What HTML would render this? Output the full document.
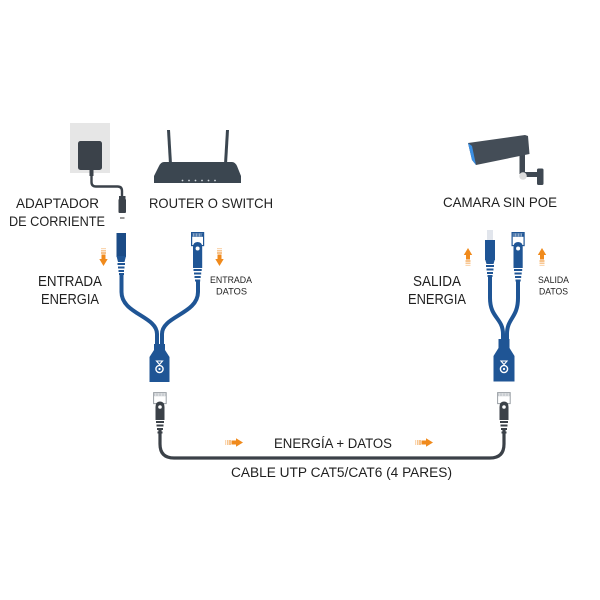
<!DOCTYPE html>
<html><head><meta charset="utf-8"><style>
html,body{margin:0;padding:0;background:#fff;}
svg{display:block;}
text{font-family:"Liberation Sans",sans-serif;fill:#1f1f1f;}
</style></head><body>
<svg width="600" height="600" viewBox="0 0 600 600" xmlns="http://www.w3.org/2000/svg">
<defs>
  <g id="arrowDown">
    <rect x="-2.5" y="0" width="5" height="1.2" fill="#f08a1c" opacity="0.35"/>
    <rect x="-2.5" y="2.2" width="5" height="1.2" fill="#f08a1c" opacity="0.6"/>
    <rect x="-2.5" y="4.4" width="5" height="1.2" fill="#f08a1c" opacity="0.85"/>
    <rect x="-2" y="6.5" width="4" height="5" fill="#f08a1c"/>
    <polygon points="-4.2,11 4.2,11 0,18" fill="#f08a1c"/>
  </g>
  <g id="arrowRight">
    <rect x="0" y="-2.5" width="1.2" height="5" fill="#f08a1c" opacity="0.35"/>
    <rect x="2.2" y="-2.5" width="1.2" height="5" fill="#f08a1c" opacity="0.6"/>
    <rect x="4.4" y="-2.5" width="1.2" height="5" fill="#f08a1c" opacity="0.85"/>
    <rect x="6.5" y="-2" width="5" height="4" fill="#f08a1c"/>
    <polygon points="11,-4.2 11,4.2 18,0" fill="#f08a1c"/>
  </g>
  <g id="rj45blue">
    <rect x="0.6" y="0.6" width="12" height="13" fill="#fff" stroke="#1f5595" stroke-width="1.2"/>
    <rect x="1.2" y="1.2" width="10.8" height="3.6" fill="#1f5595"/>
    <g stroke="#fff" stroke-width="0.5">
      <line x1="2.5" y1="1.5" x2="2.5" y2="4.5"/><line x1="4" y1="1.5" x2="4" y2="4.5"/>
      <line x1="5.5" y1="1.5" x2="5.5" y2="4.5"/><line x1="7" y1="1.5" x2="7" y2="4.5"/>
      <line x1="8.5" y1="1.5" x2="8.5" y2="4.5"/><line x1="10" y1="1.5" x2="10" y2="4.5"/>
    </g>
    <path d="M2,36 L2,15 Q2,10 6.6,10 Q11.2,10 11.2,15 L11.2,36 Z" fill="#1f5595"/>
    <circle cx="6.6" cy="16.5" r="2" fill="#fff"/>
    <rect x="2.5" y="37" width="8.2" height="2" fill="#1f5595"/>
    <rect x="3" y="40.5" width="7.2" height="2" fill="#1f5595"/>
    <rect x="3.5" y="44" width="6.2" height="2" fill="#1f5595"/>
    <rect x="4" y="47.5" width="5.2" height="2" fill="#1f5595"/>
  </g>
  <g id="rj45gray">
    <rect x="0.6" y="0.6" width="12.6" height="11" fill="#fff" stroke="#9aa0a6" stroke-width="1"/>
    <rect x="1.2" y="1.2" width="11.4" height="3" fill="#b9bec3"/>
    <g stroke="#fff" stroke-width="0.5">
      <line x1="2.5" y1="1.3" x2="2.5" y2="4"/><line x1="4" y1="1.3" x2="4" y2="4"/>
      <line x1="5.5" y1="1.3" x2="5.5" y2="4"/><line x1="7" y1="1.3" x2="7" y2="4"/>
      <line x1="8.5" y1="1.3" x2="8.5" y2="4"/><line x1="10" y1="1.3" x2="10" y2="4"/>
      <line x1="11.5" y1="1.3" x2="11.5" y2="4"/>
    </g>
    <path d="M2.5,28 L2.5,15 Q2.5,9.5 7,9.5 Q11.5,9.5 11.5,15 L11.5,28 Z" fill="#3b4148"/>
    <circle cx="7" cy="15" r="1.8" fill="#fff"/>
    <rect x="3" y="29" width="8" height="2" fill="#3b4148"/>
    <rect x="3.5" y="32.5" width="7" height="2" fill="#3b4148"/>
    <rect x="4" y="36" width="6" height="2" fill="#3b4148"/>
    <rect x="4.5" y="39.5" width="5" height="2" fill="#3b4148"/>
  </g>
  <g id="logo">
    <polygon points="-3,-7 3,-7 0,-3.5" fill="none" stroke="#fff" stroke-width="1.1"/>
    <circle cx="0" cy="1" r="3.6" fill="none" stroke="#fff" stroke-width="1.4"/>
    <circle cx="0" cy="1" r="1.1" fill="#fff"/>
  </g>
</defs>

<!-- Adapter -->
<rect x="70" y="123" width="40" height="50" fill="#e6e6e6"/>
<rect x="78" y="141" width="24" height="29" rx="2.5" fill="#3b424a"/>
<rect x="89.5" y="169" width="4" height="7" fill="#3b424a"/>
<path d="M91.5,175 L91.5,182 Q91.5,186.5 96,186.5 L117.5,186.5 Q122,186.5 122,191 L122,197" fill="none" stroke="#3b424a" stroke-width="2.4"/>
<rect x="119" y="196" width="6.5" height="4" fill="#3b424a"/>
<rect x="118.5" y="199" width="7.5" height="14" rx="1" fill="#3b424a"/>
<rect x="120" y="217" width="4.5" height="2" fill="#9a9a9a"/>

<!-- Router -->
<polygon points="167,130 170,130 172,164 169,164" fill="#3b4650"/>
<polygon points="226,130 229,130 227,164 224,164" fill="#3b4650"/>
<path d="M164,162 L232,162 Q235,162 237,166 L241,176 L241,183 L154,183 L154,176 L159,166 Q161,162 164,162 Z" fill="#3b4650"/>
<g fill="#cfd6dc">
  <circle cx="182.5" cy="180.5" r="0.9"/><circle cx="189" cy="180.5" r="0.9"/>
  <circle cx="195.5" cy="180.5" r="0.9"/><circle cx="202" cy="180.5" r="0.9"/>
  <circle cx="208.5" cy="180.5" r="0.9"/><circle cx="215" cy="180.5" r="0.9"/>
</g>

<!-- Camera -->
<rect x="519.5" y="150" width="5.5" height="24" fill="#3f4852"/>
<rect x="522" y="172" width="18" height="5" fill="#3f4852"/>
<rect x="537" y="168.5" width="6.5" height="16.5" rx="1.5" fill="#3f4852"/>
<circle cx="523" cy="176" r="3.8" fill="#dcdcdc"/>
<polygon points="468,143 525,135 528,136 529.5,154 476,165 472,160" fill="#444d57"/>
<polygon points="468,143 472,146 476,165 472,160" fill="#3b8fe3"/>

<!-- Left splitter cables -->
<path d="M121.5,274 L121.5,292 C121.5,314 157,316 157,334 L157,348" fill="none" stroke="#1f5595" stroke-width="4"/>
<path d="M198,280 L198,292 C198,314 162,316 162,334 L162,348" fill="none" stroke="#1f5595" stroke-width="4"/>
<!-- left jack -->
<rect x="116.5" y="233" width="9.5" height="24" fill="#1b4b86"/>
<polygon points="116.5,256 126,256 124.5,262 118,262" fill="#1f5595"/>
<rect x="117.5" y="263" width="7.5" height="2" fill="#1f5595"/>
<rect x="118" y="266.5" width="6.5" height="2" fill="#1f5595"/>
<rect x="118.5" y="270" width="5.5" height="2" fill="#1f5595"/>
<rect x="119" y="273" width="5" height="2" fill="#1f5595"/>
<!-- left RJ45 -->
<use href="#rj45blue" x="191" y="232"/>
<!-- left body -->
<rect x="154" y="344" width="11" height="9" fill="#1f5595"/>
<polygon points="154,350 165,350 169.5,357 169.5,382 149.5,382 149.5,357" fill="#1f5595"/>
<use href="#logo" x="159.5" y="368"/>

<!-- Right splitter cables -->
<path d="M490,276 L490,298 C490,318 503,318 503,334 L503,348" fill="none" stroke="#1f5595" stroke-width="4"/>
<path d="M518,281 L518,298 C518,318 507,318 507,334 L507,348" fill="none" stroke="#1f5595" stroke-width="4"/>
<!-- right male plug -->
<rect x="487" y="230" width="6" height="11" fill="#e1e5ec"/>
<rect x="485" y="240" width="10" height="20" fill="#1f5595"/>
<polygon points="485,259 495,259 493.5,264 486.5,264" fill="#1f5595"/>
<rect x="486" y="265" width="8" height="2" fill="#1f5595"/>
<rect x="486.5" y="268.5" width="7" height="2" fill="#1f5595"/>
<rect x="487" y="272" width="6" height="2" fill="#1f5595"/>
<rect x="487.5" y="275" width="5" height="2" fill="#1f5595"/>
<!-- right RJ45 -->
<use href="#rj45blue" x="511.5" y="232"/>
<!-- right body -->
<rect x="498.5" y="339" width="11" height="13" fill="#1f5595"/>
<polygon points="498.5,348 509.5,348 514.5,356 514.5,381.5 493.5,381.5 493.5,356" fill="#1f5595"/>
<use href="#logo" x="504" y="368"/>

<!-- Bottom cable -->
<path d="M160,428 L160,444 Q160,458 174,458 L490,458 Q504,458 504,444 L504,428" fill="none" stroke="#3b4148" stroke-width="3.2"/>
<use href="#rj45gray" x="153" y="392"/>
<use href="#rj45gray" x="497" y="392"/>

<!-- Arrows -->
<use href="#arrowDown" x="103.5" y="248"/>
<use href="#arrowDown" x="219.5" y="248"/>
<use href="#arrowDown" transform="translate(468,266) scale(1,-1)"/>
<use href="#arrowDown" transform="translate(542,266) scale(1,-1)"/>
<use href="#arrowRight" x="225" y="442.5"/>
<use href="#arrowRight" x="415" y="442.5"/>

<!-- Text -->
<text x="16" y="208" font-size="14" textLength="83" lengthAdjust="spacingAndGlyphs">ADAPTADOR</text>
<text x="9" y="226" font-size="14" textLength="96" lengthAdjust="spacingAndGlyphs">DE CORRIENTE</text>
<text x="149" y="208" font-size="14" textLength="124" lengthAdjust="spacingAndGlyphs">ROUTER O SWITCH</text>
<text x="443" y="207" font-size="14" textLength="114" lengthAdjust="spacingAndGlyphs">CAMARA SIN POE</text>
<text x="38" y="286" font-size="14.5" textLength="64" lengthAdjust="spacingAndGlyphs">ENTRADA</text>
<text x="41" y="304" font-size="14.5" textLength="58" lengthAdjust="spacingAndGlyphs">ENERGIA</text>
<text x="210" y="283" font-size="9.5" textLength="42" lengthAdjust="spacingAndGlyphs">ENTRADA</text>
<text x="216" y="294.5" font-size="9.5" textLength="31" lengthAdjust="spacingAndGlyphs">DATOS</text>
<text x="413" y="286" font-size="14.5" textLength="48" lengthAdjust="spacingAndGlyphs">SALIDA</text>
<text x="408" y="304" font-size="14.5" textLength="58" lengthAdjust="spacingAndGlyphs">ENERGIA</text>
<text x="538" y="283" font-size="9.5" textLength="31" lengthAdjust="spacingAndGlyphs">SALIDA</text>
<text x="539" y="294.5" font-size="9.5" textLength="29" lengthAdjust="spacingAndGlyphs">DATOS</text>
<text x="274" y="448" font-size="13.5" textLength="118" lengthAdjust="spacingAndGlyphs">ENERGÍA + DATOS</text>
<text x="231" y="477" font-size="13.5" textLength="221" lengthAdjust="spacingAndGlyphs">CABLE UTP CAT5/CAT6 (4 PARES)</text>
</svg>
</body></html>
